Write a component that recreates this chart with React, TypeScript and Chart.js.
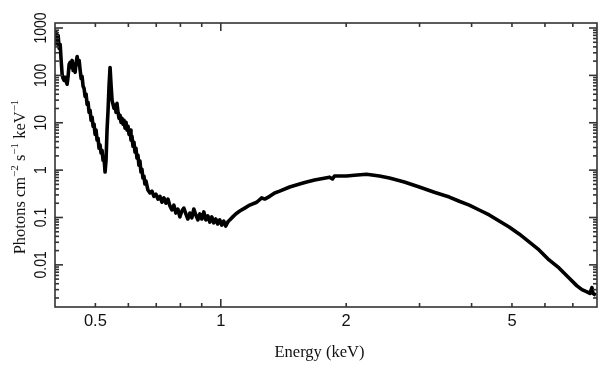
import React, { useEffect, useRef } from 'react';
import { Chart, registerables } from 'chart.js';

Chart.register(...registerables);

// Energy (keV)
const energy = [
  0.400, 0.4026, 0.4048, 0.4070, 0.4093, 0.4116, 0.4138, 0.4161, 0.4184, 0.4207,
  0.4230, 0.4253, 0.4277, 0.4300, 0.4325, 0.4349, 0.4373, 0.4397, 0.4422, 0.4446,
  0.4471, 0.4496, 0.4521, 0.4546, 0.4571,
  0.4597, 0.4622, 0.4646, 0.4672, 0.4698, 0.4723, 0.4750, 0.4776, 0.4802, 0.4829,
  0.4856, 0.4883, 0.4910, 0.4937, 0.4964, 0.4992, 0.5019, 0.5047, 0.5075, 0.5103,
  0.5131, 0.5160, 0.5188, 0.5217, 0.5246, 0.5275,
  0.5304, 0.5333, 0.5363, 0.5393, 0.5423,
  0.5453, 0.5483, 0.5512, 0.5543, 0.5574, 0.5604, 0.5635, 0.5667, 0.5698, 0.5730,
  0.5761, 0.5793, 0.5826, 0.5858, 0.5890, 0.5923, 0.5956,
  0.5989, 0.6022, 0.6055, 0.6088, 0.6121, 0.6155, 0.6189, 0.6223, 0.6257, 0.6292,
  0.6326, 0.6361, 0.6397, 0.6432, 0.6467, 0.6503, 0.6539, 0.6575, 0.6612, 0.6685,
  0.6761, 0.6836,
  0.6911, 0.6988, 0.7066, 0.7145, 0.7224, 0.7304, 0.7385, 0.7467, 0.7550, 0.7632,
  0.7716, 0.7802, 0.7888, 0.7976, 0.8065, 0.8154, 0.8245, 0.8337, 0.8429, 0.8522,
  0.8617, 0.8712, 0.8810, 0.8907, 0.9006, 0.9106, 0.9206, 0.9309, 0.9412, 0.9515,
  0.9621, 0.9728, 0.9835, 0.9945, 1.0055, 1.0167, 1.0280, 1.0394, 1.0510, 1.0684,
  1.0862, 1.1105, 1.1416, 1.1735, 1.2197, 1.2538, 1.2748, 1.3104, 1.3469, 1.3846,
  1.4632, 1.5461, 1.6069, 1.6795, 1.8242, 1.854, 1.875, 2.0034, 2.0935, 2.2372,
  2.4039, 2.5402, 2.7580, 2.9963, 3.2546, 3.5368, 3.7369, 3.9487, 4.1726, 4.4098,
  4.6591, 4.9229, 5.2014, 5.4966, 5.8076, 6.1376, 6.4848, 6.8550, 7.1614, 7.3618,
  7.5683, 7.6947, 7.78, 7.8234, 7.9527,
];

// Photons cm^-2 s^-1 keV^-1
const flux = [
  428, 804, 495, 695, 370, 449, 207, 105, 86, 78,
  91, 75, 65, 95, 171, 188, 147, 207, 127, 171,
  116, 188, 251, 171, 207,
  127, 86, 95, 59, 53, 36, 40, 24.5, 27, 16.6,
  18.3, 11.3, 13.1, 8.4, 9.3, 5.7, 7.0, 4.3, 4.7, 2.9,
  3.4, 2.3, 2.6, 1.62, 1.79, 0.91,
  1.62, 7.0, 18.3, 62, 147,
  62, 30, 24.5, 20.2, 23.4, 16.6, 25.7, 16.6, 12.4, 14.4,
  10.2, 12.4, 9.3, 11.3, 7.7, 10.2, 7.0,
  8.4, 5.7, 7.0, 4.3, 5.2, 3.2, 3.9, 2.4, 2.9, 1.79,
  2.07, 1.27, 1.55, 0.91, 1.05, 0.68, 0.75, 0.51, 0.59, 0.38,
  0.33, 0.36,
  0.28, 0.31, 0.245, 0.28, 0.21, 0.26, 0.20, 0.245, 0.175, 0.144,
  0.183, 0.124, 0.151, 0.103, 0.137, 0.158, 0.119, 0.093, 0.124, 0.098,
  0.151, 0.113, 0.089, 0.119, 0.093, 0.131, 0.089, 0.108, 0.080, 0.103,
  0.077, 0.093, 0.073, 0.089, 0.069, 0.084, 0.066, 0.080, 0.089, 0.103,
  0.119, 0.137, 0.158, 0.183, 0.21, 0.26, 0.245, 0.28, 0.33, 0.36,
  0.44, 0.51, 0.56, 0.62, 0.71, 0.65, 0.75, 0.75, 0.78, 0.82,
  0.75, 0.68, 0.56, 0.44, 0.34, 0.27, 0.22, 0.183, 0.144, 0.113,
  0.084, 0.063, 0.045, 0.0305, 0.0207, 0.0127, 0.0086, 0.0053, 0.0036, 0.0030,
  0.0027, 0.0025, 0.0033, 0.0025, 0.0023,
];

const xLabels = [0.5, 1, 2, 5];
const xMajorTicks = [1];
const xMinorTicks = [0.5, 0.6, 0.7, 0.8, 0.9, 2, 3, 4, 5, 6, 7];
const yLabels = ['0.01', '0.1', '1', '10', '100', '1000'];
const yDecades = [0.001, 0.01, 0.1, 1, 10, 100, 1000];
const yMinorMultipliers = [2, 3, 4, 5, 6, 7, 8, 9];

const X_MIN = 0.4;
const X_MAX = 8;
const Y_MIN = 0.00129;
const Y_MAX = 1276;

const framePlugin = {
  id: 'framePlugin',
  afterDraw(chart: any) {
    const { ctx, chartArea: a, scales } = chart;
    const xs = scales.x;
    const ys = scales.y;
    ctx.save();
    ctx.strokeStyle = '#333';
    ctx.lineWidth = 1.6;
    ctx.strokeRect(a.left, a.top, a.right - a.left, a.bottom - a.top);

    const tick = (x1: number, y1: number, x2: number, y2: number) => {
      ctx.beginPath();
      ctx.moveTo(x1, y1);
      ctx.lineTo(x2, y2);
      ctx.stroke();
    };
    const MAJ = 8;
    const MIN = 4;
    xMajorTicks.forEach((v) => {
      const px = xs.getPixelForValue(v);
      tick(px, a.bottom, px, a.bottom - MAJ);
      tick(px, a.top, px, a.top + MAJ);
    });
    xMinorTicks.forEach((v) => {
      const px = xs.getPixelForValue(v);
      tick(px, a.bottom, px, a.bottom - MIN);
      tick(px, a.top, px, a.top + MIN);
    });
    yDecades.forEach((d) => {
      if (d >= Y_MIN && d <= Y_MAX) {
        const py = ys.getPixelForValue(d);
        tick(a.left, py, a.left + MAJ, py);
        tick(a.right, py, a.right - MAJ, py);
      }
      yMinorMultipliers.forEach((m) => {
        const v = d * m;
        if (v < Y_MIN || v > Y_MAX) return;
        const py = ys.getPixelForValue(v);
        tick(a.left, py, a.left + MIN, py);
        tick(a.right, py, a.right - MIN, py);
      });
    });

    // x tick labels
    ctx.fillStyle = '#111';
    ctx.font = '16.5px "Liberation Sans", Arial, sans-serif';
    ctx.textAlign = 'center';
    ctx.textBaseline = 'alphabetic';
    xLabels.forEach((v) => {
      ctx.fillText(String(v), xs.getPixelForValue(v), 326);
    });

    // y tick labels, rotated
    yLabels.forEach((t) => {
      const py = ys.getPixelForValue(parseFloat(t));
      ctx.save();
      ctx.translate(45.5, py);
      ctx.rotate(-Math.PI / 2);
      ctx.scale(0.85, 1);
      ctx.textAlign = 'center';
      ctx.textBaseline = 'alphabetic';
      ctx.fillText(t, 0, 0);
      ctx.restore();
    });

    // x title
    ctx.fillStyle = '#111';
    ctx.font = '16.5px "Liberation Serif", "Times New Roman", serif';
    ctx.textAlign = 'center';
    ctx.fillText('Energy (keV)', 319.5, 357);

    // y title with superscripts
    const parts: [string, boolean][] = [
      ['Photons cm', false], ['\u22122', true], [' s', false], ['\u22121', true],
      [' keV', false], ['\u22121', true],
    ];
    const mainFont = '16.5px "Liberation Serif", "Times New Roman", serif';
    const supFont = '11px "Liberation Serif", "Times New Roman", serif';
    let total = 0;
    parts.forEach(([s, sup]) => {
      ctx.font = sup ? supFont : mainFont;
      total += ctx.measureText(s).width;
    });
    ctx.save();
    ctx.translate(25, 177);
    ctx.rotate(-Math.PI / 2);
    ctx.textAlign = 'left';
    let cx = -total / 2;
    parts.forEach(([s, sup]) => {
      ctx.font = sup ? supFont : mainFont;
      ctx.fillText(s, cx, sup ? -7 : 0);
      cx += ctx.measureText(s).width;
    });
    ctx.restore();

    ctx.restore();
  },
};

export default function App() {
  const ref = useRef<HTMLCanvasElement>(null);
  useEffect(() => {
    const chart = new Chart(ref.current as HTMLCanvasElement, {
      type: 'line',
      data: {
        datasets: [
          {
            data: energy.map((e, i) => ({ x: e, y: flux[i] })),
            borderColor: '#000',
            borderWidth: 3.6,
            borderJoinStyle: 'round',
            pointRadius: 0,
            tension: 0,
            fill: false,
          },
        ],
      },
      options: {
        responsive: false,
        animation: false,
        devicePixelRatio: 1,
        layout: { padding: { top: 23, right: 12, left: 0, bottom: 0 } },
        plugins: { legend: { display: false }, tooltip: { enabled: false } },
        scales: {
          x: {
            type: 'logarithmic',
            min: X_MIN,
            max: X_MAX,
            ticks: { display: false },
            grid: { display: false },
            border: { display: false },
            afterFit(s: any) { s.height = 62; },
          },
          y: {
            type: 'logarithmic',
            min: Y_MIN,
            max: Y_MAX,
            ticks: { display: false },
            grid: { display: false },
            border: { display: false },
            afterFit(s: any) { s.width = 55; },
          },
        },
      } as any,
      plugins: [framePlugin],
    });
    return () => chart.destroy();
  }, []);
  return (
    <div style={{ position: 'absolute', left: 0, top: 0, width: 609, height: 369, background: '#fff' }}>
      <canvas ref={ref} width={609} height={369} style={{ width: 609, height: 369, display: 'block' }} />
    </div>
  );
}
